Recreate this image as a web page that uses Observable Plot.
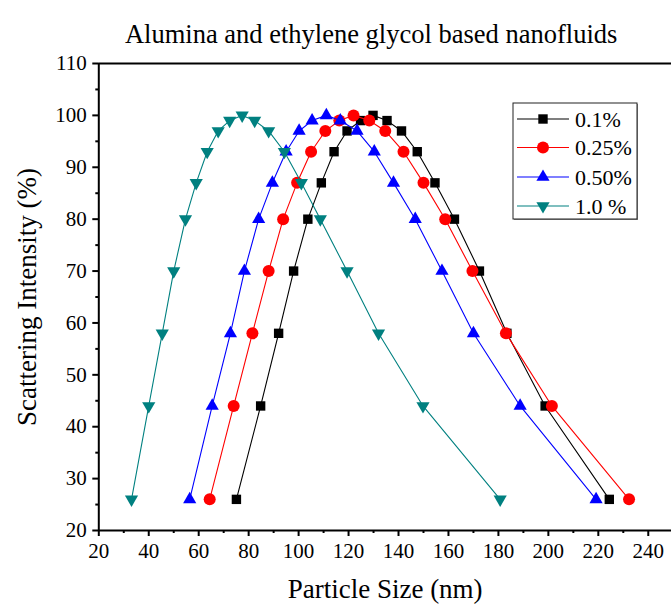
<!DOCTYPE html>
<html>
<head>
<meta charset="utf-8">
<script src="https://cdn.jsdelivr.net/npm/d3@7"></script>
<script src="https://cdn.jsdelivr.net/npm/@observablehq/plot@0.6"></script>
<style>
  html, body { margin: 0; padding: 0; background: #fff; }
  #chart { position: relative; width: 671px; height: 611px; }
  #chart svg, #chart svg text { font-family: 'Liberation Serif', 'Times New Roman', serif !important; }
</style>
</head>
<body>
<div id="chart"></div>
<script>
// ---- data ----
const titleText = "Alumina and ethylene glycol based nanofluids";
const xLabel = "Particle Size (nm)";
const yLabel = "Scattering Intensity (%)";
const seriesNames = ["0.1%", "0.25%", "0.50%", "1.0 %"];
const seriesColors = ["#000000", "#ff0000", "#0000ff", "#008080"];
const intensity = [26, 44, 58, 70, 80, 87, 93, 97, 99, 100, 99, 97, 93, 87, 80, 70, 58, 44, 26];
const size01 = [75.1, 84.8, 92.0, 98.0, 103.7, 109.1, 114.2, 119.4, 124.8, 129.8, 135.4, 141.2, 147.5, 154.6, 162.4, 172.4, 183.4, 198.7, 224.4];
const size025 = [64.4, 74.0, 81.5, 88.0, 93.8, 99.4, 105.0, 110.7, 116.3, 122.0, 128.3, 134.7, 142.0, 150.0, 158.7, 169.6, 183.0, 201.4, 232.3];
const size050 = [56.4, 65.4, 72.7, 78.3, 84.0, 89.5, 95.0, 100.2, 105.4, 111.1, 116.7, 123.4, 130.3, 138.0, 146.7, 157.4, 170.0, 188.7, 219.1];
const size10 = [33.1, 40.0, 45.4, 50.0, 54.7, 59.0, 63.4, 67.8, 72.4, 77.4, 82.4, 88.0, 94.3, 101.1, 108.7, 119.4, 132.0, 149.8, 180.7];
const xTicks = [20, 40, 60, 80, 100, 120, 140, 160, 180, 200, 220, 240];
const xMinorTicks = [30, 50, 70, 90, 110, 130, 150, 170, 190, 210, 230];
const yTicks = [20, 30, 40, 50, 60, 70, 80, 90, 100, 110];
const yMinorTicks = [25, 35, 45, 55, 65, 75, 85, 95, 105];

// ---- build ----
const sizes = [size01, size025, size050, size10];
const data = [];
sizes.forEach((arr, s) => arr.forEach((x, i) => data.push({series: seriesNames[s], x, y: intensity[i]})));

const triangleDown = {
  draw(context, size) {
    const sqrt3 = Math.sqrt(3);
    const y = -Math.sqrt(size / (sqrt3 * 3));
    context.moveTo(0, -y * 2);
    context.lineTo(-sqrt3 * y, y);
    context.lineTo(sqrt3 * y, y);
    context.closePath();
  }
};
const symbols = [d3.symbolSquare, d3.symbolCircle, d3.symbolTriangle, triangleDown];
const radii = [5.3, 6, 4.9, 4.9];

const font = "'Liberation Serif', 'Times New Roman', serif";

const marks = [];
seriesNames.forEach((name, s) => {
  const sub = data.filter(d => d.series === name);
  marks.push(Plot.line(sub, {x: "x", y: "y", stroke: seriesColors[s], strokeWidth: 1.1}));
  marks.push(Plot.dot(sub, {x: "x", y: "y", fill: seriesColors[s], stroke: "none", symbol: () => symbols[s], r: radii[s]}));
});

const chart = Plot.plot({
  width: 671,
  height: 611,
  marginLeft: 98.3,
  marginRight: 0,
  marginTop: 63,
  marginBottom: 81,
  style: {fontFamily: font, background: "#fff", color: "#000"},
  x: {domain: [20, 249.3]},
  y: {domain: [20, 110]},
  symbol: {type: "identity"},
  marks: [
    Plot.axisX({ticks: xTicks, tickSize: 6, tickPadding: 7, fontSize: 21, fontFamily: font, strokeWidth: 2, label: null}),
    Plot.axisX({ticks: xMinorTicks, tickSize: 3, strokeWidth: 2, tickFormat: () => "", label: null}),
    Plot.axisY({ticks: yTicks, tickSize: 6, tickPadding: 6, fontSize: 21, fontFamily: font, strokeWidth: 2, label: null}),
    Plot.axisY({ticks: yMinorTicks, tickSize: 3, strokeWidth: 2, tickFormat: () => "", label: null}),
    Plot.ruleY([20], {strokeWidth: 2}),
    Plot.ruleY([110], {strokeWidth: 2}),
    Plot.ruleX([20], {strokeWidth: 2}),
    ...marks,
    Plot.text([titleText], {frameAnchor: "top", dy: -39, dx: -14, fontSize: 26.5, fontFamily: font, fill: "#000"}),
    Plot.text([xLabel], {frameAnchor: "bottom", dy: 67, fontSize: 27, fontFamily: font, fill: "#000"}),
    Plot.text([yLabel], {frameAnchor: "left", textAnchor: "middle", dx: -71, rotate: -90, fontSize: 27, fontFamily: font, fill: "#000"})
  ]
});

document.getElementById("chart").appendChild(chart);

// ---- legend ----
const svg = d3.select(chart);
const lg = svg.append("g").attr("font-family", font).attr("text-anchor", "start");
const lx = 513, ly = 103, lw = 124, lh = 116;
lg.append("rect").attr("x", lx + 1).attr("y", ly + 1).attr("width", lw).attr("height", lh).attr("fill", "#888");
lg.append("rect").attr("x", lx).attr("y", ly).attr("width", lw).attr("height", lh).attr("fill", "#fff").attr("stroke", "#222").attr("stroke-width", 1);
const rowY = [119, 147.5, 177, 206];
seriesNames.forEach((name, s) => {
  const yy = rowY[s];
  lg.append("line").attr("x1", 517).attr("x2", 569).attr("y1", yy).attr("y2", yy).attr("stroke", seriesColors[s]).attr("stroke-width", 1.1);
  const area = Math.PI * radii[s] * radii[s];
  lg.append("path").attr("d", d3.symbol(symbols[s], area)()).attr("transform", `translate(543,${yy})`).attr("fill", seriesColors[s]);
  lg.append("text").attr("x", 575).attr("y", yy).attr("dy", "0.35em").attr("text-anchor", "start").attr("font-size", 22).attr("fill", "#000").text(name);
});
</script>
</body>
</html>
